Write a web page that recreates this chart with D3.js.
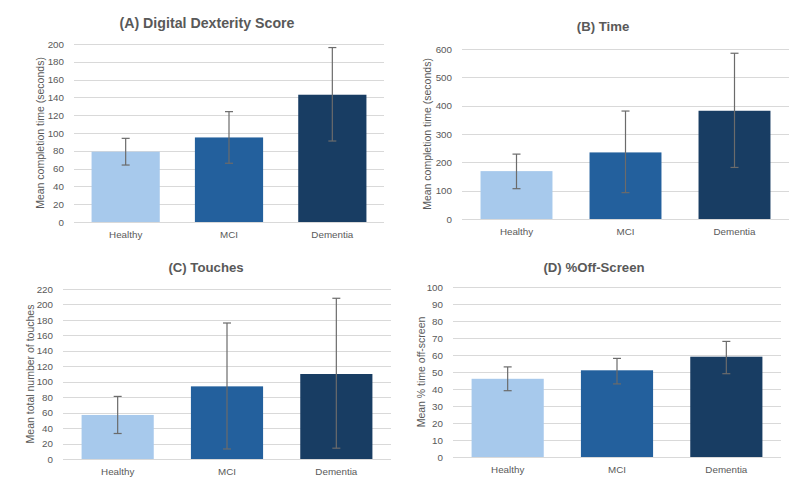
<!DOCTYPE html>
<html>
<head>
<meta charset="utf-8">
<script src="https://cdn.jsdelivr.net/npm/d3@7"></script>
<style>
  body { margin: 0; background: #fff; }
  svg { display: block; font-family: "Liberation Sans", Arial, sans-serif; }
</style>
</head>
<body>
<div class="board"></div>
<script>
var categories = ['Healthy', 'MCI', 'Dementia'];

// (A) digital dexterity score
var dexterityMean = [79, 95, 143];
var dexterityLow = [64, 66, 91];
var dexterityHigh = [94, 124, 196];

// (B) time
var timeMean = [169, 235, 382];
var timeLow = [107, 93, 182];
var timeHigh = [229, 381, 585];

// (C) touches
var touchesMean = [57, 94, 110];
var touchesLow = [33, 13, 14];
var touchesHigh = [81, 176, 208];

// (D) % off-screen
var offMean = [46, 51, 59];
var offLow = [39, 43, 49];
var offHigh = [53, 58, 68];

var barColors = ['#a7c9ec', '#23609d', '#183d63'];
var textFont = '"Liberation Sans", Arial, sans-serif';

var svg = d3.select('.board').append('svg')
  .attr('width', 800)
  .attr('height', 491);

//draws one panel of the grid
var drawPanel = function(opts){
  var x = d3.scaleBand()
    .domain(categories)
    .range([opts.left, opts.right])
    .paddingInner(0.34)
    .paddingOuter(0.17);

  var y = d3.scaleLinear()
    .domain([0, opts.yMax])
    .range([opts.bottom, opts.top]);

  var g = svg.append('g');
  var ticks = d3.range(0, opts.yMax + opts.step / 2, opts.step);

  //gridlines
  g.selectAll('line.grid')
    .data(ticks)
    .enter()
    .append('line')
      .attr('class', 'grid')
      .attr('x1', opts.left)
      .attr('x2', opts.right)
      .attr('y1', function(d){ return Math.round(y(d)) + 0.5; })
      .attr('y2', function(d){ return Math.round(y(d)) + 0.5; })
      .attr('stroke', '#d9d9d9')
      .attr('stroke-width', 1);

  //tick labels via axis
  var axis = g.append('g')
    .attr('transform', 'translate(' + (opts.left - 10) + ',0)')
    .call(d3.axisLeft(y).tickValues(ticks).tickSize(0).tickPadding(0));
  axis.select('.domain').remove();
  axis.selectAll('text')
    .attr('fill', '#595959')
    .style('font-size', '9.8px')
    .style('font-family', textFont);

  var xAxis = g.append('g')
    .attr('transform', 'translate(0,' + opts.bottom + ')')
    .call(d3.axisBottom(x).tickSize(0).tickPadding(opts.xPad));
  xAxis.select('.domain').remove();
  xAxis.selectAll('text')
    .attr('fill', '#595959')
    .style('font-size', '9.8px')
    .style('font-family', textFont);

  //bars
  g.selectAll('rect.bar')
    .data(opts.mean)
    .enter()
    .append('rect')
      .attr('class', 'bar')
      .attr('x', function(d, i){ return x(categories[i]); })
      .attr('width', x.bandwidth())
      .attr('y', function(d){ return y(d); })
      .attr('height', function(d){ return opts.bottom - y(d); })
      .attr('fill', function(d, i){ return barColors[i]; });

  //error bars
  var err = g.selectAll('g.err')
    .data(opts.mean)
    .enter()
    .append('g')
      .attr('class', 'err')
      .attr('stroke', '#6b6b6b')
      .attr('stroke-width', 1.2);

  err.append('line')
    .attr('x1', function(d, i){ return x(categories[i]) + x.bandwidth() / 2; })
    .attr('x2', function(d, i){ return x(categories[i]) + x.bandwidth() / 2; })
    .attr('y1', function(d, i){ return y(opts.low[i]); })
    .attr('y2', function(d, i){ return y(opts.high[i]); });

  ['low', 'high'].forEach(function(key){
    err.append('line')
      .attr('x1', function(d, i){ return x(categories[i]) + x.bandwidth() / 2 - 4; })
      .attr('x2', function(d, i){ return x(categories[i]) + x.bandwidth() / 2 + 4; })
      .attr('y1', function(d, i){ return y(opts[key][i]); })
      .attr('y2', function(d, i){ return y(opts[key][i]); });
  });

  //title
  g.append('text')
    .attr('x', opts.titleX)
    .attr('y', opts.titleY)
    .attr('text-anchor', 'middle')
    .attr('fill', '#595959')
    .style('font-size', opts.titleSize + 'px')
    .style('font-weight', 'bold')
    .style('font-family', textFont)
    .text(opts.title);

  //y label
  g.append('text')
    .attr('transform', 'translate(' + opts.labelX + ',' + ((opts.top + opts.bottom) / 2) + ') rotate(-90)')
    .attr('text-anchor', 'middle')
    .attr('fill', '#595959')
    .style('font-size', '10.5px')
    .style('font-family', textFont)
    .text(opts.yLabel);
}

drawPanel({
  title: '(A) Digital Dexterity Score', titleX: 207, titleY: 28, titleSize: 14.2,
  yLabel: 'Mean completion time (seconds)', labelX: 44,
  left: 74, right: 384, top: 44, bottom: 222, yMax: 200, step: 20, xPad: 9,
  mean: dexterityMean, low: dexterityLow, high: dexterityHigh
});

drawPanel({
  title: '(B) Time', titleX: 603, titleY: 31, titleSize: 13.2,
  yLabel: 'Mean completion time (seconds)', labelX: 431,
  left: 462, right: 789, top: 49, bottom: 219, yMax: 600, step: 100, xPad: 9,
  mean: timeMean, low: timeLow, high: timeHigh
});

drawPanel({
  title: '(C) Touches', titleX: 206, titleY: 272, titleSize: 13.2,
  yLabel: 'Mean total number of touches', labelX: 34,
  left: 63, right: 391, top: 289, bottom: 459, yMax: 220, step: 20, xPad: 9,
  mean: touchesMean, low: touchesLow, high: touchesHigh
});

drawPanel({
  title: '(D) %Off-Screen', titleX: 594, titleY: 272, titleSize: 13.2,
  yLabel: 'Mean % time off-screen', labelX: 425,
  left: 453, right: 781, top: 287, bottom: 457, yMax: 100, step: 10, xPad: 9,
  mean: offMean, low: offLow, high: offHigh
});
</script>
</body>
</html>
